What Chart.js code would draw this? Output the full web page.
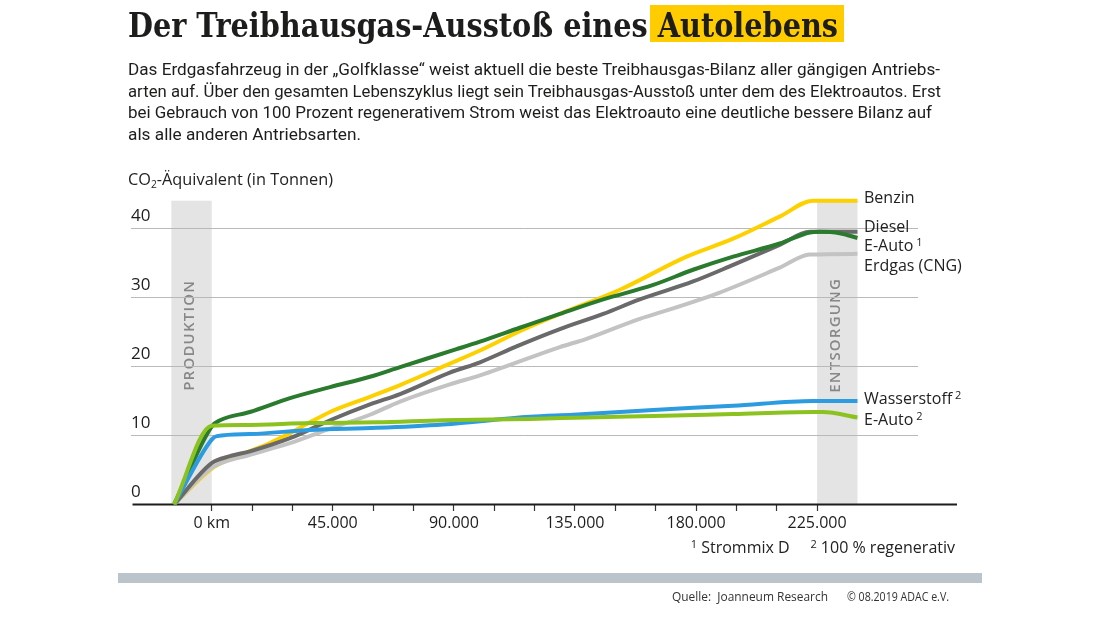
<!DOCTYPE html>
<html><head><meta charset="utf-8">
<script src="https://cdn.jsdelivr.net/npm/chart.js@4.4.1/dist/chart.umd.min.js"></script>
<style>
html,body{margin:0;padding:0;background:#fff;}
#wrap{position:relative;width:1100px;height:619px;overflow:hidden;background:#fff;font-family:'Open Sans',sans-serif;color:#222;}
canvas{position:absolute;left:0;top:0;}
.t{position:absolute;white-space:pre;transform-origin:0 50%;z-index:2;}
.lbl{font-size:16px;line-height:20px;left:864px;}
.body{font-family:Roboto,sans-serif;font-size:17px;line-height:22px;left:128px;color:#1d1d1b;}
</style></head><body>
<div id="wrap">
<canvas id="c" width="1100" height="619"></canvas>
<div style="position:absolute;left:650px;top:5px;width:194px;height:37px;background:#ffcc00;z-index:1;"></div>
<div class="t fit" data-w="710" style="left:128px;top:7.5px;font-family:'DejaVu Serif Condensed','DejaVu Serif';font-weight:bold;font-size:34px;line-height:34px;color:#1d1d1b;">Der Treibhausgas-Ausstoß eines Autolebens</div>
<div class="t body fit" data-w="812" style="top:58px;">Das Erdgasfahrzeug in der „Golfklasse“ weist aktuell die beste Treibhausgas-Bilanz aller gängigen Antriebs-</div>
<div class="t body fit" data-w="813" style="top:80px;">arten auf. Über den gesamten Lebenszyklus liegt sein Treibhausgas-Ausstoß unter dem des Elektroautos. Erst</div>
<div class="t body fit" data-w="804" style="top:101px;">bei Gebrauch von 100 Prozent regenerativem Strom weist das Elektroauto eine deutliche bessere Bilanz auf</div>
<div class="t body fit" data-w="233" style="top:123px;">als alle anderen Antriebsarten.</div>
<div class="t fit" data-w="205" style="left:128px;top:169px;font-size:16px;line-height:20px;">CO<span style="font-size:10px;position:relative;top:3px;">2</span>-Äquivalent (in Tonnen)</div>
<div class="t lbl" style="top:187px;">Benzin</div>
<div class="t lbl" style="top:216px;">Diesel</div>
<div class="t lbl" style="top:235px;">E-Auto<span style="font-size:11px;position:relative;top:-5px;"> 1</span></div>
<div class="t lbl" style="top:255px;">Erdgas (CNG)</div>
<div class="t lbl" style="top:388px;">Wasserstoff<span style="font-size:11px;position:relative;top:-5px;"> 2</span></div>
<div class="t lbl" style="top:409px;">E-Auto<span style="font-size:11px;position:relative;top:-5px;"> 2</span></div>
<div class="t" style="right:145px;top:537px;font-size:16px;line-height:20px;"><span style="font-size:11px;position:relative;top:-5px;">1</span> Strommix D     <span style="font-size:11px;position:relative;top:-5px;">2</span> 100 % regenerativ</div>
<div style="position:absolute;left:118px;top:573px;width:864px;height:10px;background:#bcc4cb;"></div>
<div class="t fit" data-w="156" style="left:672px;top:588px;font-size:12px;line-height:18px;color:#333;">Quelle:  Joanneum Research</div>
<div class="t fit" data-w="102" style="left:847px;top:588px;font-size:12px;line-height:18px;color:#333;">© 08.2019 ADAC e.V.</div>
</div>
<script>
// ---- data (km, tonnes CO2-equivalent) ----
const kmBenzin  = [-14000, 0, 7000, 14000, 21000, 29000, 36500, 44000, 58800, 70000, 88500, 99700, 114500, 129400, 151700, 176500, 193800, 211100, 223500, 240000];
const valBenzin = [0, 5.2, 6.6, 7.7, 8.8, 10.3, 11.9, 13.4, 15.6, 17.3, 20.4, 22.3, 25.1, 27.6, 31.1, 35.9, 38.5, 41.7, 44.0, 44.0];

const kmDiesel  = [-14000, 0, 6800, 14200, 29100, 44000, 58800, 70000, 88500, 99700, 113300, 129400, 145500, 159100, 178900, 193800, 211100, 222300, 240000];
const valDiesel = [0, 6.0, 7.0, 7.7, 9.6, 12.2, 14.5, 16.0, 19.1, 20.6, 22.9, 25.4, 27.6, 29.7, 32.3, 34.7, 37.6, 39.5, 39.5];

const kmEauto1  = [-14000, 0, 3100, 14200, 29100, 44000, 58800, 70000, 91000, 99700, 114500, 129400, 145500, 164100, 178900, 193800, 211100, 222300, 226000, 233400, 240000];
const valEauto1 = [0, 11.3, 12.2, 13.4, 15.4, 17.0, 18.5, 19.9, 22.5, 23.6, 25.6, 27.6, 29.7, 31.8, 34.0, 35.9, 37.8, 39.4, 39.5, 39.3, 38.6];

const kmErdgas  = [-14000, 0, 14200, 29100, 44000, 58800, 70000, 88500, 99700, 129400, 139300, 159100, 164100, 188800, 211100, 222300, 240000];
const valErdgas = [0, 5.3, 7.2, 8.9, 11.0, 13.0, 14.9, 17.4, 18.7, 22.8, 24.0, 26.9, 27.5, 30.7, 34.3, 36.2, 36.3];

const kmWasser  = [-14000, 0, 1900, 14200, 36500, 61300, 86000, 118300, 134300, 164100, 193800, 223500, 240000];
const valWasser = [0, 9.4, 9.9, 10.2, 10.8, 11.1, 11.6, 12.7, 13.0, 13.7, 14.3, 15.0, 15.0];

const kmEauto2  = [-14000, 0, 11700, 36500, 61300, 86000, 118300, 139300, 164100, 193800, 223500, 227100, 240000];
const valEauto2 = [0, 11.4, 11.5, 11.8, 11.9, 12.2, 12.4, 12.6, 12.8, 13.1, 13.4, 13.4, 12.6];

const seriesNames = ['E-Auto ²', 'Wasserstoff ²', 'E-Auto ¹', 'Diesel', 'Erdgas (CNG)', 'Benzin'];

const xTickValues  = [0, 15000, 30000, 45000, 60000, 75000, 90000, 105000, 120000, 135000, 150000, 165000, 180000, 195000, 210000, 225000];
const xLabelValues = [0, 45000, 90000, 135000, 180000, 225000];
const xLabelTexts  = ['0 km', '45.000', '90.000', '135.000', '180.000', '225.000'];
const yTickValues  = [0, 10, 20, 30, 40];

const phaseNames  = ['PRODUKTION', 'ENTSORGUNG'];
const phaseFrom   = [-15000, 225000];
const phaseTo     = [0, 240000];
const phaseTop    = 44;

// ---- build ----
function pts(xs, ys) { return xs.map((x, i) => ({x: x, y: ys[i]})); }
const lineStyle = {pointRadius: 0, borderWidth: 4, fill: false, cubicInterpolationMode: 'monotone', borderCapStyle: 'butt', borderJoinStyle: 'round'};
const datasets = [
  Object.assign({label: seriesNames[0], data: pts(kmEauto2, valEauto2), borderColor: '#8cc21f'}, lineStyle),
  Object.assign({label: seriesNames[1], data: pts(kmWasser, valWasser), borderColor: '#2d9be0'}, lineStyle),
  Object.assign({label: seriesNames[2], data: pts(kmEauto1, valEauto1), borderColor: '#2b7b2f'}, lineStyle),
  Object.assign({label: seriesNames[3], data: pts(kmDiesel, valDiesel), borderColor: '#6a6a6a'}, lineStyle),
  Object.assign({label: seriesNames[4], data: pts(kmErdgas, valErdgas), borderColor: '#c3c3c3'}, lineStyle),
  Object.assign({label: seriesNames[5], data: pts(kmBenzin, valBenzin), borderColor: '#fdd000'}, lineStyle)
];

const decoPlugin = {
  id: 'deco',
  beforeDraw(chart) {
    const {ctx, scales: {x, y}} = chart;
    ctx.save();
    for (let i = 0; i < phaseNames.length; i++) {
      const x0 = x.getPixelForValue(phaseFrom[i]), x1 = x.getPixelForValue(phaseTo[i]);
      const y0 = y.getPixelForValue(phaseTop), y1 = y.getPixelForValue(0);
      ctx.fillStyle = '#e4e4e4';
      ctx.fillRect(x0, y0, x1 - x0, y1 - y0);
      ctx.save();
      ctx.translate((x0 + x1) / 2 - 2, y.getPixelForValue(24.5));
      ctx.rotate(-Math.PI / 2);
      ctx.font = '600 15px "Open Sans"';
      try { ctx.letterSpacing = '1.2px'; } catch (e) {}
      ctx.fillStyle = '#878787';
      ctx.textAlign = 'center';
      ctx.textBaseline = 'middle';
      ctx.fillText(phaseNames[i], 0, 0);
      ctx.restore();
    }
    ctx.restore();
  },
  beforeDatasetsDraw(chart) {
    const {ctx, scales: {x, y}, chartArea} = chart;
    const py = y.getPixelForValue(0);
    ctx.save();
    ctx.strokeStyle = '#1d1d1b';
    ctx.lineWidth = 2;
    ctx.beginPath();
    ctx.moveTo(chartArea.left + 1.5, py);
    ctx.lineTo(chartArea.right + 39, py);
    ctx.stroke();
    ctx.restore();
  }
};

new Chart(document.getElementById('c'), {
  type: 'line',
  data: {datasets: datasets},
  plugins: [decoPlugin],
  options: {
    responsive: false,
    animation: false,
    layout: {padding: {left: 131, right: 182, top: 186.9, bottom: 114.5}},
    plugins: {legend: {display: false}, tooltip: {enabled: false}},
    scales: {
      x: {
        type: 'linear', min: -30000, max: 262500,
        position: {y: 0},
        afterBuildTicks: s => { s.ticks = xTickValues.map(v => ({value: v})); },
        ticks: {
          autoSkip: false, maxRotation: 0, padding: 3,
          color: '#1d1d1b', font: {family: 'Open Sans', size: 16},
          callback: v => { const k = xLabelValues.indexOf(v); return k >= 0 ? xLabelTexts[k] : ''; }
        },
        grid: {drawOnChartArea: false, drawTicks: true, tickLength: 6, color: '#333', tickWidth: 1.2},
        border: {display: false}
      },
      y: {
        type: 'linear', min: 0, max: 46, position: 'left',
        afterBuildTicks: s => { s.ticks = yTickValues.map(v => ({value: v})); },
        ticks: {mirror: true, padding: 0, labelOffset: -12, color: '#1d1d1b', font: {family: 'Open Sans', size: 17}},
        grid: {drawTicks: false, lineWidth: 1, color: c => (c.tick && c.tick.value === 0) ? 'rgba(0,0,0,0)' : '#b9b9b9'},
        border: {display: false}
      }
    }
  }
});

function fitAll() {
  document.querySelectorAll('.fit').forEach(el => {
    el.style.transform = 'none';
    const w = el.getBoundingClientRect().width;
    const target = parseFloat(el.dataset.w);
    if (w > 0) el.style.transform = 'scaleX(' + (target / w) + ')';
  });
}
fitAll();
if (document.fonts && document.fonts.ready) document.fonts.ready.then(fitAll);
</script>
</body></html>
